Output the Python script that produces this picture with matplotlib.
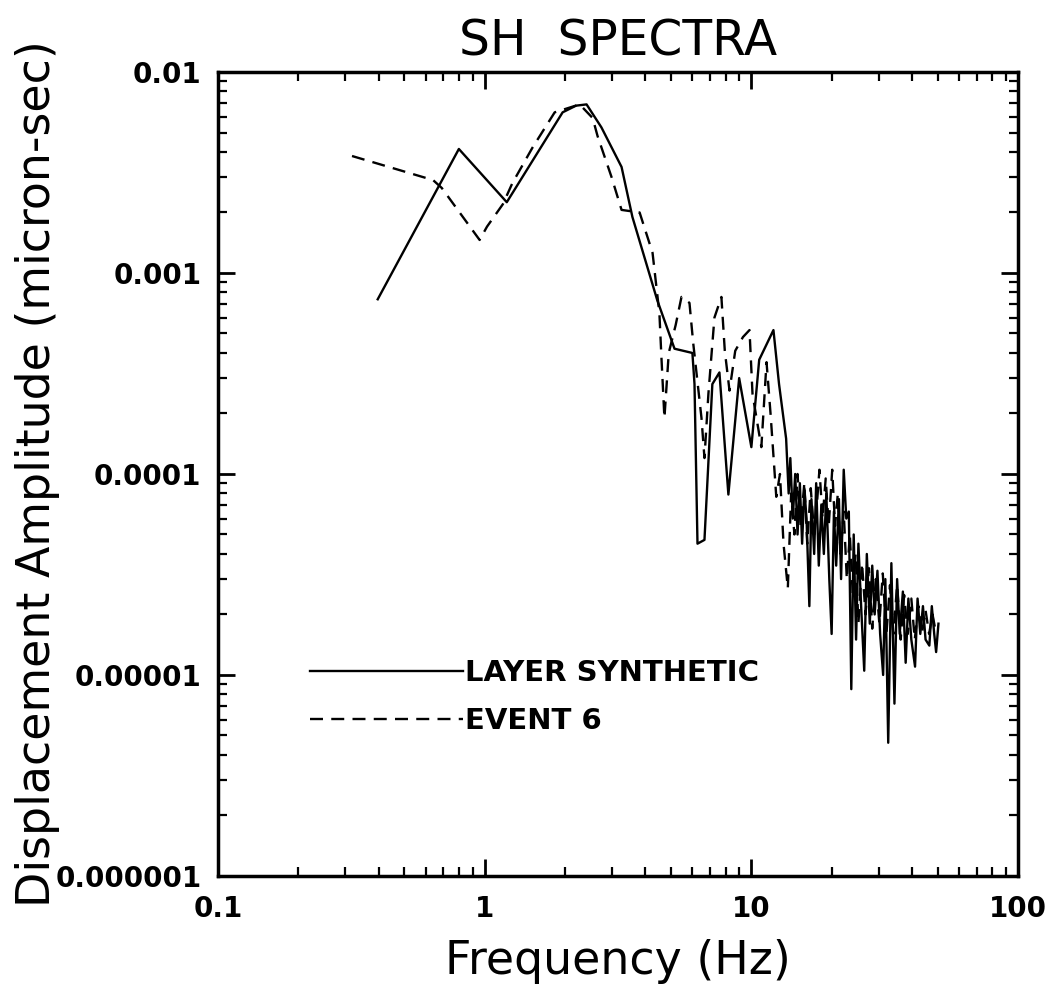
import numpy as np
import matplotlib
matplotlib.use("Agg")
import matplotlib.pyplot as plt
from matplotlib.ticker import NullFormatter, LogLocator

# LAYER SYNTHETIC (solid) - frequency (Hz) and displacement amplitude (micron-sec)
synth_freq = [
    0.397, 0.80, 1.21, 1.96, 2.2, 2.41, 2.74, 3.26, 3.58, 4.44, 5.15, 6.01, 6.12, 6.28,
    6.67, 7.14, 7.59, 8.2, 9.0, 10.0, 10.7, 12.1, 12.7, 13.5,
    13.8, 14.0, 14.3, 14.6, 14.9, 15.2, 15.5, 15.8, 16.1, 16.5, 16.8, 17.2, 17.5, 17.9,
    18.3, 18.7, 19.1, 19.6, 20.0, 20.4, 20.8, 21.3, 21.7, 22.2, 22.7, 23.2, 23.7, 24.2,
    24.7, 25.2, 25.8, 26.5, 27.1, 27.8, 28.4, 29.0, 29.7, 30.4, 31.2, 31.8, 32.6, 33.5,
    34.4, 35.2, 36.0, 37.0, 37.9, 38.8, 39.8, 41.1, 42.0, 43.0, 44.0, 45.0, 46.5, 47.5,
    48.5, 49.3, 50.3,
]
synth_amp = [
    7.4e-4, 4.14e-3, 2.25e-3, 6.3e-3, 6.8e-3, 6.9e-3, 5.3e-3, 3.37e-3, 1.9e-3, 7.3e-4,
    4.2e-4, 4.0e-4, 2.8e-4, 4.5e-5, 4.7e-5, 2.8e-4, 3.2e-4, 7.9e-5, 3.0e-4, 1.36e-4,
    3.7e-4, 5.2e-4, 2.8e-4, 1.5e-4,
    8.0e-5, 1.2e-4, 6.0e-5, 1.0e-4, 5.0e-5, 9.0e-5, 4.5e-5, 8.5e-5, 6.0e-5, 2.2e-5,
    7.5e-5, 4.0e-5, 9.0e-5, 3.5e-5, 7.0e-5, 4.0e-5, 8.0e-5, 3.0e-5, 1.6e-5, 6.5e-5,
    3.5e-5, 7.5e-5, 3.0e-5, 1.05e-4, 6.0e-5, 6.5e-5, 8.5e-6, 5.0e-5, 1.5e-5, 4.5e-5,
    2.2e-5, 1.05e-5, 4.0e-5, 1.8e-5, 3.5e-5, 2.0e-5, 3.3e-5, 1.6e-5, 1.0e-5, 3.0e-5,
    4.6e-6, 3.6e-5, 7.2e-6, 3.0e-5, 1.6e-5, 2.6e-5, 1.15e-5, 2.4e-5, 1.5e-5, 1.1e-5,
    2.4e-5, 1.6e-5, 2.2e-5, 1.5e-5, 1.4e-5, 2.2e-5, 1.6e-5, 1.3e-5, 1.8e-5,
]

# EVENT 6 (dashed)
event_freq = [
    0.318, 0.64, 0.69, 0.957, 1.02, 1.17, 1.27, 1.51, 1.83, 2.27, 2.54, 2.65, 2.99, 3.26,
    3.81, 4.26, 4.52, 4.6, 4.72, 4.9, 5.2, 5.47, 5.86, 6.05, 6.5, 6.67, 6.9, 7.27, 7.72,
    7.95, 8.28, 8.7, 9.3, 9.84, 10.1, 10.9, 11.4, 11.8, 12.4,
    12.8, 13.2, 13.7, 14.1, 14.5, 14.9, 15.3, 15.8, 16.2, 16.7, 17.2, 17.6, 18.0, 18.5,
    19.0, 19.5, 20.1, 20.6, 21.1, 21.6, 22.2, 22.8, 23.4, 24.0, 24.6, 25.2, 26.0, 26.8,
    27.6, 28.4, 29.3, 30.2, 31.1, 32.1, 33.1, 34.1, 35.2, 36.3, 37.4, 38.6, 39.8, 41.0,
    42.3, 43.6, 45.0, 46.4, 47.8, 49.3,
]
event_amp = [
    3.82e-3, 2.9e-3, 2.65e-3, 1.46e-3, 1.7e-3, 2.2e-3, 2.8e-3, 4.2e-3, 6.3e-3, 6.9e-3,
    5.9e-3, 4.8e-3, 3.0e-3, 2.06e-3, 2.0e-3, 1.26e-3, 6.3e-4, 3.8e-4, 1.9e-4, 4.0e-4,
    5.5e-4, 7.6e-4, 7.1e-4, 4.5e-4, 1.9e-4, 1.2e-4, 2.5e-4, 6.0e-4, 7.6e-4, 4.1e-4,
    2.6e-4, 4.1e-4, 4.8e-4, 5.2e-4, 2.5e-4, 1.36e-4, 3.6e-4, 2.0e-4, 7.7e-5,
    1.0e-4, 4.5e-5, 2.7e-5, 8.0e-5, 5.0e-5, 1.0e-4, 5.5e-5, 9.0e-5, 4.5e-5, 8.5e-5,
    5.0e-5, 7.0e-5, 1.05e-4, 6.0e-5, 9.5e-5, 5.5e-5, 1.05e-4, 5.5e-5, 8.0e-5, 4.0e-5,
    6.5e-5, 3.0e-5, 5.0e-5, 2.5e-5, 4.0e-5, 1.8e-5, 3.6e-5, 2.0e-5, 3.4e-5, 1.7e-5,
    3.0e-5, 1.8e-5, 3.2e-5, 1.6e-5, 2.8e-5, 1.6e-5, 2.8e-5, 1.5e-5, 2.5e-5, 1.6e-5,
    2.4e-5, 1.5e-5, 2.2e-5, 1.6e-5, 2.1e-5, 1.6e-5, 2.0e-5, 1.6e-5,
]

x_ticks = [0.1, 1, 10, 100]
x_ticklabels = ["0.1", "1", "10", "100"]
y_ticks = [1e-6, 1e-5, 1e-4, 1e-3, 1e-2]
y_ticklabels = ["0.000001", "0.00001", "0.0001", "0.001", "0.01"]

fig = plt.figure(figsize=(10.6, 9.89), dpi=100)
ax = fig.add_axes([0.2057, 0.1143, 0.7547, 0.8129])

ax.plot(synth_freq, synth_amp, color="black", lw=1.7, label="LAYER SYNTHETIC")
ax.plot(event_freq, event_amp, color="black", lw=1.7, linestyle=(0, (5.5, 3.5)), label="EVENT 6")

ax.set_xscale("log")
ax.set_yscale("log")
ax.set_xlim(0.1, 100)
ax.set_ylim(1e-6, 1e-2)

ax.set_xticks(x_ticks)
ax.set_xticklabels(x_ticklabels)
ax.set_yticks(y_ticks)
ax.set_yticklabels(y_ticklabels)
ax.xaxis.set_minor_locator(LogLocator(base=10, subs=np.arange(2, 10)))
ax.yaxis.set_minor_locator(LogLocator(base=10, subs=np.arange(2, 10)))
ax.xaxis.set_minor_formatter(NullFormatter())
ax.yaxis.set_minor_formatter(NullFormatter())

ax.tick_params(which="both", direction="in", top=True, right=True)
ax.tick_params(which="major", length=12, width=2)
ax.tick_params(which="minor", length=6.5, width=1.6)
ax.tick_params(axis="x", which="major", pad=14)
ax.tick_params(axis="y", which="major", pad=12)
for lab in ax.get_xticklabels() + ax.get_yticklabels():
    lab.set_fontsize(20)
    lab.set_fontweight("bold")

for sp in ax.spines.values():
    sp.set_linewidth(2.5)

ax.set_title("SH  SPECTRA", fontsize=35, pad=12)
ax.set_xlabel("Frequency (Hz)", fontsize=33, labelpad=11)
ax.set_ylabel("Displacement Amplitude (micron-sec)", fontsize=33)
ax.yaxis.set_label_coords(-0.198, 0.5)

leg = ax.legend(loc="upper left", bbox_to_anchor=(0.115, 0.27), frameon=False,
                borderpad=0, borderaxespad=0,
                handlelength=5.25, handletextpad=0.05, labelspacing=0.7,
                prop={"family": "DejaVu Sans", "weight": "bold", "size": 21})

fig.savefig("out.png", dpi=100)
